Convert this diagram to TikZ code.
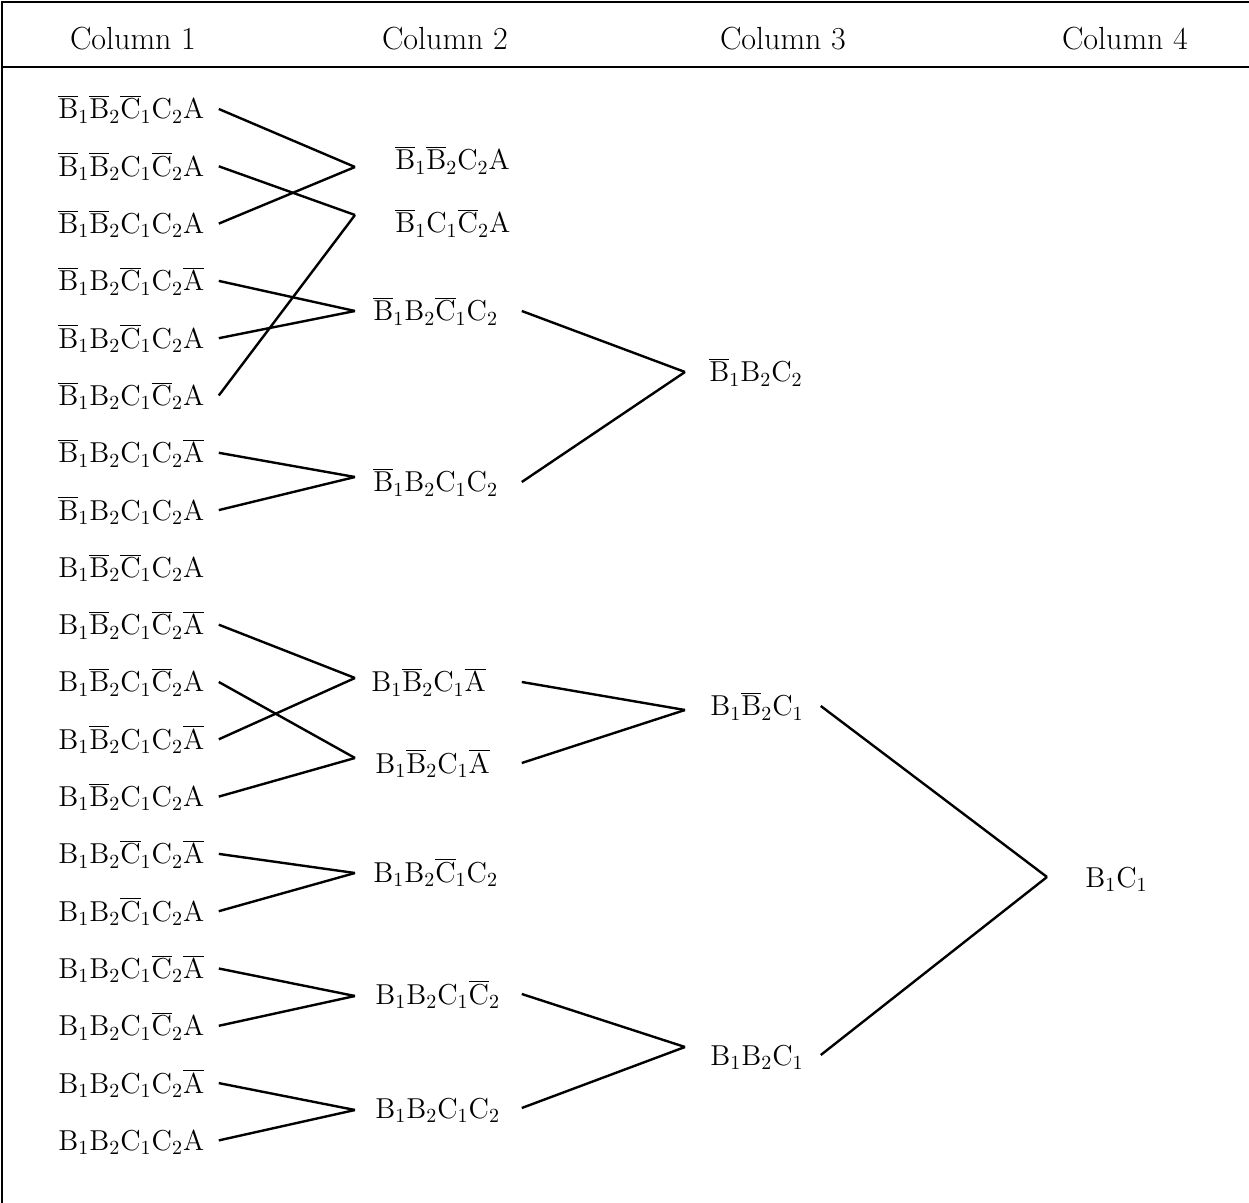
\documentclass[tikz,border=0pt]{standalone}
\usepackage{tikz}
\usetikzlibrary{positioning}
\newcommand{\lit}[2]{\mathrm{#1}_{#2}}
\newcommand{\nlit}[2]{\overline{\mathrm{#1}}_{#2}}
\newcommand{\nA}{\overline{\mathrm{A}}}

\begin{document}
\begin{tikzpicture}[x=0.5pt, y=-0.5pt,
  every node/.style={font=\fontsize{14}{17}\selectfont, inner ysep=0pt,
    text height=12.5pt, text depth=2.5pt},
  term/.style={anchor=west, inner xsep=0pt, align=left, text width=#1},
  head/.style={font=\fontsize{16}{19}\selectfont},
  link/.style={line width=1.2pt},
  frame/.style={line width=1pt}]
  \useasboundingbox (0,0) rectangle (1249,1203);
  \draw[frame] (1252,2) -- (2,2) -- (2,1206);
  \draw[frame] (2,67) -- (1252,67);
  \foreach \k/\x in {1/133,2/445,3/783,4/1125}
    \node[head] (h\k) at (\x,40) {Column \k};
  \foreach \i/\txt in{%
    1/{\nlit{B}{1}\nlit{B}{2}\nlit{C}{1}\lit{C}{2}\mathrm{A}},
    2/{\nlit{B}{1}\nlit{B}{2}\lit{C}{1}\nlit{C}{2}\mathrm{A}},
    3/{\nlit{B}{1}\nlit{B}{2}\lit{C}{1}\lit{C}{2}\mathrm{A}},
    4/{\nlit{B}{1}\lit{B}{2}\nlit{C}{1}\lit{C}{2}\nA},
    5/{\nlit{B}{1}\lit{B}{2}\nlit{C}{1}\lit{C}{2}\mathrm{A}},
    6/{\nlit{B}{1}\lit{B}{2}\lit{C}{1}\nlit{C}{2}\mathrm{A}},
    7/{\nlit{B}{1}\lit{B}{2}\lit{C}{1}\lit{C}{2}\nA},
    8/{\nlit{B}{1}\lit{B}{2}\lit{C}{1}\lit{C}{2}\mathrm{A}},
    9/{\lit{B}{1}\nlit{B}{2}\nlit{C}{1}\lit{C}{2}\mathrm{A}},
    10/{\lit{B}{1}\nlit{B}{2}\lit{C}{1}\nlit{C}{2}\nA},
    11/{\lit{B}{1}\nlit{B}{2}\lit{C}{1}\nlit{C}{2}\mathrm{A}},
    12/{\lit{B}{1}\nlit{B}{2}\lit{C}{1}\lit{C}{2}\nA},
    13/{\lit{B}{1}\nlit{B}{2}\lit{C}{1}\lit{C}{2}\mathrm{A}},
    14/{\lit{B}{1}\lit{B}{2}\nlit{C}{1}\lit{C}{2}\nA},
    15/{\lit{B}{1}\lit{B}{2}\nlit{C}{1}\lit{C}{2}\mathrm{A}},
    16/{\lit{B}{1}\lit{B}{2}\lit{C}{1}\nlit{C}{2}\nA},
    17/{\lit{B}{1}\lit{B}{2}\lit{C}{1}\nlit{C}{2}\mathrm{A}},
    18/{\lit{B}{1}\lit{B}{2}\lit{C}{1}\lit{C}{2}\nA},
    19/{\lit{B}{1}\lit{B}{2}\lit{C}{1}\lit{C}{2}\mathrm{A}}
  }{%
    \pgfmathsetmacro{\ypos}{109 + (\i - 1) * 57.3}
    \node[term=80pt] (a\i) at (58,\ypos) {$\txt$};
  }
  \foreach \k/\y in {1/167,2/215,3/311,4/477,5/678,6/758,7/873,8/996,9/1110}
    \coordinate (j\k) at (355,\y);
  \node[term=63pt] (b1) at (395,160) {$\nlit{B}{1}\nlit{B}{2}\lit{C}{2}\mathrm{A}$};
  \node[term=63pt] (b2) at (395,223) {$\nlit{B}{1}\lit{C}{1}\nlit{C}{2}\mathrm{A}$};
  \node[term=74pt] (b3) at (373,311) {$\nlit{B}{1}\lit{B}{2}\nlit{C}{1}\lit{C}{2}$};
  \node[term=74pt] (b4) at (373,482) {$\nlit{B}{1}\lit{B}{2}\lit{C}{1}\lit{C}{2}$};
  \node[term=75pt] (b5) at (371,682) {$\lit{B}{1}\nlit{B}{2}\lit{C}{1}\nA$};
  \node[term=73pt] (b6) at (375,763) {$\lit{B}{1}\nlit{B}{2}\lit{C}{1}\nA$};
  \node[term=74pt] (b7) at (373,872) {$\lit{B}{1}\lit{B}{2}\nlit{C}{1}\lit{C}{2}$};
  \node[term=73pt] (b8) at (375,994) {$\lit{B}{1}\lit{B}{2}\lit{C}{1}\nlit{C}{2}$};
  \node[term=73pt] (b9) at (375,1108) {$\lit{B}{1}\lit{B}{2}\lit{C}{1}\lit{C}{2}$};
  \foreach \s/\t in {1/1,3/1,2/2,6/2,4/3,5/3,7/4,8/4,10/5,12/5,11/6,13/6,14/7,15/7,16/8,17/8,18/9,19/9}
    \draw[link] (a\s.east) -- (j\t);
  \foreach \k/\y in {1/372,2/710,3/1047}
    \coordinate (k\k) at (685,\y);
  \node[term=55.5pt] (c1) at (709,372) {$\nlit{B}{1}\lit{B}{2}\lit{C}{2}$};
  \node[term=55pt] (c2) at (710,706) {$\lit{B}{1}\nlit{B}{2}\lit{C}{1}$};
  \node[term=55pt] (c3) at (710,1055) {$\lit{B}{1}\lit{B}{2}\lit{C}{1}$};
  \foreach \s/\t in {3/1,4/1,5/2,6/2,8/3,9/3}
    \draw[link] (b\s.east) -- (k\t);
  \coordinate (m) at (1047,877);
  \node[term=40pt] (d) at (1085,877) {$\lit{B}{1}\lit{C}{1}$};
  \draw[link] (c2.east) -- (m);
  \draw[link] (c3.east) -- (m);
\end{tikzpicture}
\end{document}
